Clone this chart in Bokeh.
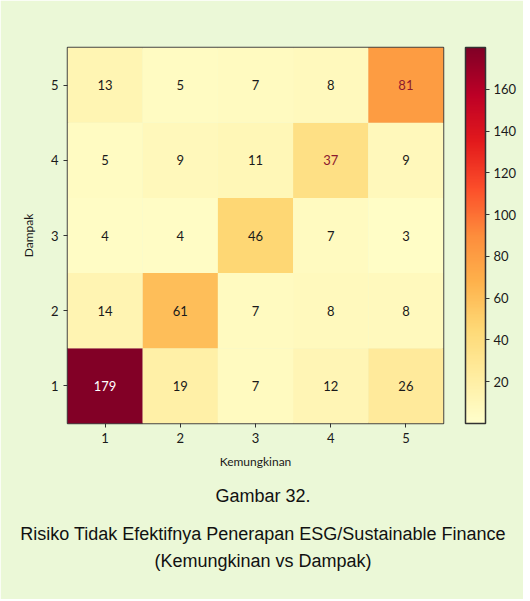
import numpy as np
from bokeh.plotting import figure
from bokeh.models import (ColumnDataSource, LinearColorMapper, ColorBar, FixedTicker,
                          Title)
from bokeh.core.properties import value
from bokeh.embed import file_html
from bokeh.resources import INLINE

# ---- data ----
kemungkinan = [1, 2, 3, 4, 5]          # x categories
dampak = [1, 2, 3, 4, 5]               # y categories
row_d5 = [13, 5, 7, 8, 81]
row_d4 = [5, 9, 11, 37, 9]
row_d3 = [4, 4, 46, 7, 3]
row_d2 = [14, 61, 7, 8, 8]
row_d1 = [179, 19, 7, 12, 26]
cbar_ticks = [20, 40, 60, 80, 100, 120, 140, 160]
cbar_low, cbar_high = 0, 180
highlight_cells = [(4, 4), (5, 5)]     # cells with dark-red annotation
captions = ["Gambar 32.",
            "Risiko Tidak Efektifnya Penerapan ESG/Sustainable Finance",
            "(Kemungkinan vs Dampak)"]

rows = {1: row_d1, 2: row_d2, 3: row_d3, 4: row_d4, 5: row_d5}

xs, ys, vals, txt, tcol = [], [], [], [], []
vmax_all = max(max(r) for r in rows.values())
for d in dampak:
    for i, k in enumerate(kemungkinan):
        v = rows[d][i]
        xs.append(k); ys.append(d); vals.append(v); txt.append(str(v))
        if v > 0.8 * vmax_all:
            tcol.append("white")
        elif (k, d) in highlight_cells:
            tcol.append("#8c1a2e")
        else:
            tcol.append("#1a1a1a")

src = ColumnDataSource(dict(x=xs, y=ys, v=vals, t=txt, c=tcol))

# YlOrRd palette (colorbrewer anchors) spread to 256 steps
anchors = ["#ffffcc", "#ffeda0", "#fed976", "#feb24c", "#fd8d3c",
           "#fc4e2a", "#e31a1c", "#bd0026", "#800026"]
arr = np.array([[int(h[i:i + 2], 16) for i in (1, 3, 5)] for h in anchors], float)
pos = np.linspace(0, 1, len(anchors))
tt = np.linspace(0, 1, 256)
pal = ["#%02x%02x%02x" % tuple(int(round(np.interp(t, pos, arr[:, j]))) for j in range(3)) for t in tt]

mapper = LinearColorMapper(palette=pal, low=cbar_low, high=cbar_high)

BG = "#ebf8d7"
FONT = "Lato"

p = figure(width=523, height=599, x_range=(0.5, 5.5), y_range=(0.5, 5.5),
           output_backend="svg", toolbar_location=None,
           min_border_left=67, min_border_top=47, min_border_right=80, min_border_bottom=176)
p.background_fill_color = BG
p.border_fill_color = BG
p.outline_line_color = "#444444"
p.outline_line_width = 1.5
p.grid.visible = False

p.rect(x="x", y="y", width=1, height=1, source=src,
       fill_color={"field": "v", "transform": mapper}, line_color=None)
p.text(x="x", y="y", text="t", source=src, text_color="c",
       text_align="center", text_baseline="middle",
       text_font=value(FONT), text_font_size="13px")

for ax in (p.xaxis[0], p.yaxis[0]):
    ax.ticker = FixedTicker(ticks=kemungkinan)
    ax.axis_line_color = None
    ax.major_tick_in = 0
    ax.major_tick_out = 4
    ax.major_tick_line_color = "#333333"
    ax.minor_tick_line_color = None
    ax.major_label_text_font = FONT
    ax.major_label_text_font_size = "13px"
    ax.major_label_text_color = "#1a1a1a"
    ax.axis_label_text_font = FONT
    ax.axis_label_text_font_size = "12px"
    ax.axis_label_text_font_style = "normal"
    ax.axis_label_text_color = "#1a1a1a"
p.xaxis.axis_label = "Kemungkinan"
p.yaxis.axis_label = "Dampak"
p.xaxis.axis_label_standoff = 8
p.yaxis.axis_label_standoff = 12

cb = ColorBar(color_mapper=mapper, ticker=FixedTicker(ticks=cbar_ticks),
              width=20, height=376, padding=0, margin=0, location=(398, 0),
              background_fill_color=None, border_line_color=None,
              bar_line_color="#333333", bar_line_width=1.5,
              major_tick_in=0, major_tick_out=4, major_tick_line_color="#333333",
              major_label_text_font=FONT, major_label_text_font_size="13px",
              major_label_text_color="#1a1a1a", label_standoff=4)
p.add_layout(cb)

# caption: centred titles below the plot; a few leading no-break spaces nudge the
# centre slightly to the right, to sit under the whole figure like the reference
nudge = "\u00a0" * 3
standoffs = [25, 7, 3]
for line, sd in zip(captions, standoffs):
    t = Title(text=nudge + line, align="center", text_font="Liberation Sans",
              text_font_size="18px", text_font_style="normal",
              text_color="#111111", standoff=sd)
    p.add_layout(t, "below")

open("out.html", "w").write(file_html(p, INLINE))
